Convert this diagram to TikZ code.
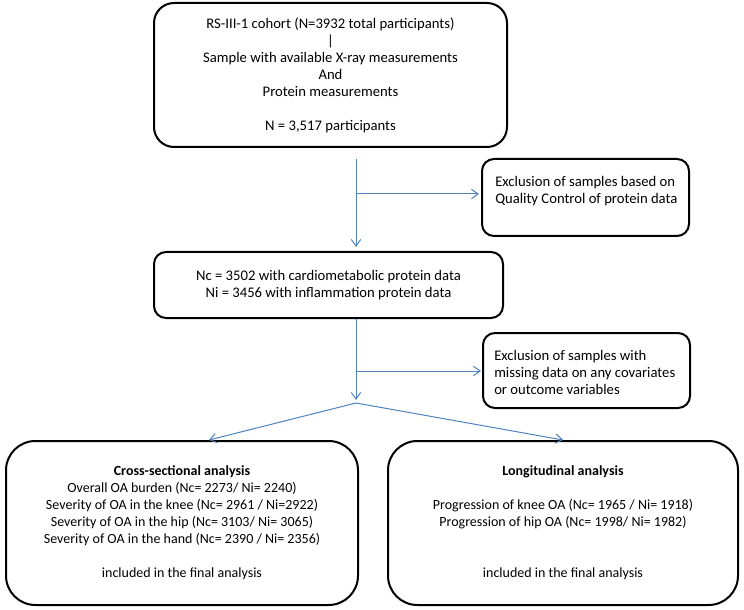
\documentclass[tikz,border=0pt]{standalone}
\usepackage{fontspec}
\setmainfont{Carlito}
\usetikzlibrary{arrows.meta}
\definecolor{arrblue}{RGB}{79,129,189}
\tikzset{
  box/.style={draw=black, line width=1.5pt, rounded corners=#1, inner sep=0pt},
  box/.default=9pt,
  arr/.style={draw=arrblue, line width=0.75pt, -{Straight Barb[length=5pt,width=7pt]}},
  plain/.style={draw=arrblue, line width=0.75pt},
  txt/.style={align=center, font=\fontsize{11pt}{12.75pt}\selectfont, inner sep=0pt},
  ltxt/.style={align=left, font=\fontsize{11pt}{12.75pt}\selectfont, inner sep=0pt, anchor=west},
  btxt/.style={align=center, font=\fontsize{10.5pt}{12.75pt}\selectfont, inner sep=0pt},
}
\begin{document}
\begin{tikzpicture}[x=0.75pt, y=-0.75pt]
\useasboundingbox (0,0) rectangle (744,610);
% boxes
\node[box=15pt, minimum width=264.75pt, minimum height=108pt, txt] (top) at (330.5,75)
  {RS-III-1 cohort (N=3932 total participants)\\|\\Sample with available X-ray measurements\\And\\Protein measurements\\[12.75pt]N = 3,517 participants};
\node[box, minimum width=155.25pt, minimum height=57.75pt] (ex1) at (585.5,197.5) {};
\node[ltxt] (ex1t) at (495,191.5) {Exclusion of samples based on\\Quality Control of protein data};
\node[box, minimum width=261.75pt, minimum height=49.5pt, txt] (mid) at (328.5,285)
  {Nc = 3502 with cardiometabolic protein data\\Ni = 3456 with inflammation protein data};
\node[box, minimum width=155.25pt, minimum height=56.25pt] (ex2) at (586.5,370.5) {};
\node[ltxt] (ex2t) at (494,372) {Exclusion of samples with\\missing data on any covariates\\or outcome variables};
\node[box=22pt, minimum width=264pt, minimum height=123pt, btxt] (lb) at (182,523)
  {\textbf{Cross-sectional analysis}\\Overall OA burden (Nc= 2273/ Ni= 2240)\\Severity of OA in the knee (Nc= 2961 / Ni=2922)\\Severity of OA in the hip (Nc= 3103/ Ni= 3065)\\Severity of OA in the hand (Nc= 2390 / Ni= 2356)\\[12.75pt]included in the final analysis};
\node[box=22pt, minimum width=262.5pt, minimum height=123pt, btxt] (rb) at (563,523)
  {\textbf{Longitudinal analysis}\\[12.75pt]Progression of knee OA (Nc= 1965 / Ni= 1918)\\Progression of hip OA (Nc= 1998/ Ni= 1982)\\[25.5pt]included in the final analysis};
% connector coordinates
\coordinate (c) at (356,0);
\coordinate (b1) at (356,194);
\coordinate (b2) at (356,371);
\coordinate (j) at (356,403);
\coordinate (lt) at (209,0);
% connectors
\draw[arr, shorten <=8.25pt, shorten >=3pt] (top.south -| c) -- (mid.north -| c);
\draw[arr, shorten >=1.5pt] (b1) -- (b1 -| ex1.west);
\draw[arr, shorten >=2.25pt] (mid.south -| c) -- (j);
\draw[arr, shorten >=0.75pt] (b2) -- (b2 -| ex2.west);
\draw[arr] (j) -- (lb.north -| lt);
\draw[arr] (j) -- (rb.north);
\end{tikzpicture}
\end{document}
